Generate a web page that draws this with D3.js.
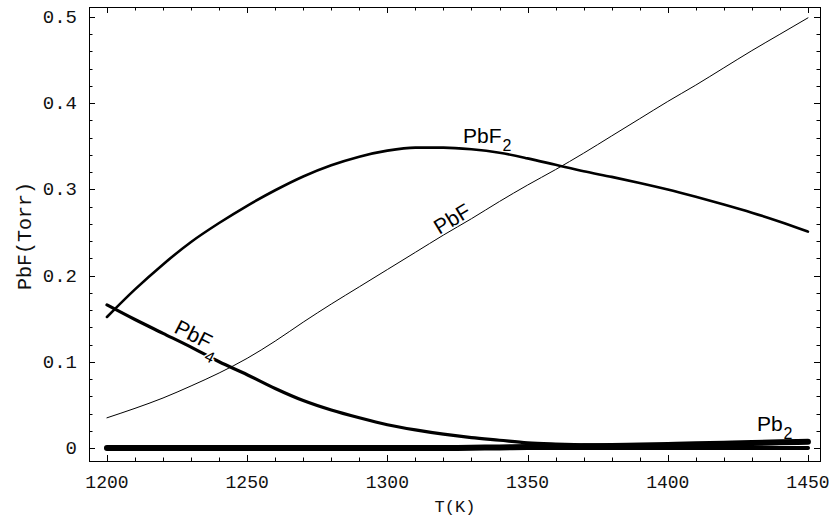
<!DOCTYPE html>
<html>
<head>
<meta charset="utf-8">
<script src="https://cdn.jsdelivr.net/npm/d3@7"></script>
<style>
  html, body { margin: 0; padding: 0; background: #fff; }
  svg { display: block; }
</style>
</head>
<body>
<svg id="chart" width="829" height="518"></svg>
<script>
// Temperature grid (K)
const temps = [1200, 1210, 1220, 1230, 1240, 1250, 1260, 1270, 1280, 1290, 1300,
               1310, 1320, 1330, 1340, 1350, 1360, 1370, 1380, 1390, 1400,
               1410, 1420, 1430, 1440, 1450];

// Partial pressures (Torr) per species
const pbF  = [0.035, 0.046, 0.058, 0.072, 0.087, 0.104, 0.124, 0.146, 0.167, 0.187, 0.207,
              0.227, 0.247, 0.266, 0.286, 0.305, 0.323, 0.342, 0.362, 0.382, 0.402,
              0.421, 0.441, 0.461, 0.480, 0.499];
const pbF2 = [0.152, 0.184, 0.213, 0.239, 0.261, 0.281, 0.299, 0.315, 0.328, 0.338, 0.345,
              0.3485, 0.3485, 0.3465, 0.3425, 0.336, 0.3285, 0.321, 0.3145, 0.3075, 0.300,
              0.2915, 0.2825, 0.273, 0.2625, 0.251];
const pbF4 = [0.166, 0.149, 0.133, 0.117, 0.100, 0.085, 0.069, 0.055, 0.044, 0.035, 0.027,
              0.021, 0.016, 0.012, 0.009, 0.006, 0.0045, 0.0035, 0.003, 0.0025, 0.002,
              0.0015, 0.001, 0.0008, 0.0005, 0.0003];
const pb2  = [0, 0, 0, 0, 0, 0, 0, 0, 0, 0, 0,
              0, 0, 0.0003, 0.0006, 0.001, 0.0014, 0.0019, 0.0024, 0.003, 0.0036,
              0.0043, 0.005, 0.0058, 0.0066, 0.0072];
const pbBase = [0, 0, 0, 0, 0, 0, 0, 0, 0, 0, 0,
                0, 0, 0, 0, 0, 0, 0, 0, 0, 0,
                0, 0, 0, 0, 0];

// Axis ticks
const xMajorTicks = [1200, 1250, 1300, 1350, 1400, 1450];
const xTickLabels = ["1200", "1250", "1300", "1350", "1400", "1450"];
const yMajorTicks = [0, 0.1, 0.2, 0.3, 0.4, 0.5];
const yTickLabels = ["0", "0.1", "0.2", "0.3", "0.4", "0.5"];

const svg = d3.select("#chart");
const plotLeft = 89, plotRight = 820, plotTop = 7, plotBottom = 461;

const x = d3.scaleLinear().domain([1193.6, 1454.3]).range([plotLeft, plotRight]);
const y = d3.scaleLinear().domain([-0.0151, 0.5116]).range([plotBottom, plotTop]);

// Frame
svg.append("rect")
  .attr("x", plotLeft + 0.5).attr("y", plotTop + 0.5)
  .attr("width", plotRight - plotLeft).attr("height", plotBottom - plotTop)
  .attr("fill", "none").attr("stroke", "#000").attr("stroke-width", 1);

// Inward ticks on all four sides
const xMinor = d3.range(1200, 1451, 10).filter(v => v % 50 !== 0);
const yMinor = d3.range(0, 51, 2).map(v => v / 100).filter(v => Math.round(v * 100) % 10 !== 0);
const tickG = svg.append("g").attr("stroke", "#000").attr("stroke-width", 1);
function xTick(v, len) {
  const px = Math.round(x(v)) + 0.5;
  tickG.append("line").attr("x1", px).attr("x2", px).attr("y1", plotBottom).attr("y2", plotBottom - len);
  tickG.append("line").attr("x1", px).attr("x2", px).attr("y1", plotTop).attr("y2", plotTop + len);
}
function yTick(v, len) {
  const py = Math.round(y(v)) + 0.5;
  tickG.append("line").attr("x1", plotLeft).attr("x2", plotLeft + len).attr("y1", py).attr("y2", py);
  tickG.append("line").attr("x1", plotRight).attr("x2", plotRight - len).attr("y1", py).attr("y2", py);
}
xMajorTicks.forEach(v => xTick(v, 6));
xMinor.forEach(v => xTick(v, 3.5));
yMajorTicks.forEach(v => yTick(v, 6));
yMinor.forEach(v => yTick(v, 3.5));

// Tick labels
const mono = "'Liberation Mono', 'Courier New', monospace";
svg.append("g").selectAll("text").data(xMajorTicks).join("text")
  .attr("x", d => x(d)).attr("y", 488)
  .attr("text-anchor", "middle")
  .attr("font-family", mono).attr("font-size", 18)
  .attr("fill", "#111")
  .text((d, i) => xTickLabels[i]);
svg.append("g").selectAll("text").data(yMajorTicks).join("text")
  .attr("x", 77).attr("y", d => y(d) + 6)
  .attr("text-anchor", "end")
  .attr("font-family", mono).attr("font-size", 19)
  .attr("fill", "#111")
  .text((d, i) => yTickLabels[i]);

// Axis titles
svg.append("text")
  .attr("x", 455).attr("y", 512)
  .attr("text-anchor", "middle")
  .attr("font-family", mono).attr("font-size", 17)
  .attr("fill", "#111")
  .text("T(K)");
svg.append("text")
  .attr("transform", "translate(31,236) rotate(-90)")
  .attr("text-anchor", "middle")
  .attr("font-family", mono).attr("font-size", 20)
  .attr("fill", "#111")
  .text("PbF(Torr)");

// Curves
const series = [
  { values: pbBase, width: 4 },
  { values: pb2,    width: 6 },
  { values: pbF,    width: 1 },
  { values: pbF2,   width: 2.6 },
  { values: pbF4,   width: 3.2 }
];
const line = d3.line()
  .x((d, i) => x(temps[i]))
  .y(d => y(d))
  .curve(d3.curveMonotoneX);
svg.append("g").selectAll("path").data(series).join("path")
  .attr("d", s => line(s.values))
  .attr("fill", "none")
  .attr("stroke", "#000")
  .attr("stroke-width", s => s.width)
  .attr("stroke-linecap", "round")
  .attr("stroke-linejoin", "round");

// Curve labels (the PbF4 one gets a white halo where its subscript crosses the curve)
const sans = "'Liberation Sans', Arial, sans-serif";
const labels = [
  { t: 1327,   v: 0.354,  angle: 0,   base: "PbF", sub: "2", halo: false, subDy: 8 },
  { t: 1318.5, v: 0.247,  angle: -31, base: "PbF", sub: "",  halo: false, subDy: 0 },
  { t: 1223.6, v: 0.1345, angle: 27,  base: "PbF", sub: "4", halo: true,  subDy: 11 },
  { t: 1431.8, v: 0.0197, angle: 0,   base: "Pb",  sub: "2", halo: false, subDy: 8 }
];
labels.forEach(l => {
  const t = svg.append("text")
    .attr("transform", `translate(${x(l.t)},${y(l.v)}) rotate(${l.angle})`)
    .attr("font-family", sans).attr("font-size", 21);
  if (l.halo) {
    t.attr("stroke", "#fff").attr("stroke-width", 3).attr("paint-order", "stroke");
  }
  t.append("tspan").text(l.base);
  if (l.sub) t.append("tspan").attr("dy", l.subDy).attr("dx", 1).attr("font-size", 16).text(l.sub);
});
</script>
</body>
</html>
